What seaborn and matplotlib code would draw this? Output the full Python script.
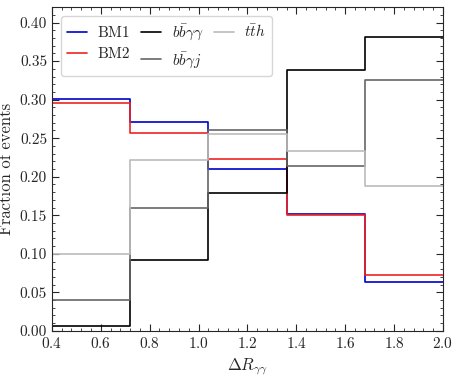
import numpy as np
import pandas as pd
import matplotlib
matplotlib.use("Agg")
import matplotlib.pyplot as plt
from matplotlib.ticker import AutoMinorLocator
import seaborn as sns

# bin edges in Delta R_gamma gamma
edges = [0.4, 0.72, 1.04, 1.36, 1.68, 2.0]

bm1 = [0.301, 0.271, 0.210, 0.151, 0.063]
bm2 = [0.296, 0.257, 0.223, 0.150, 0.073]
bbaa = [0.006, 0.092, 0.179, 0.339, 0.381]
bbaj = [0.040, 0.159, 0.261, 0.214, 0.325]
tth = [0.100, 0.222, 0.256, 0.233, 0.188]

labels = ["BM1", "BM2", r"$b\bar{b}\gamma\gamma$", r"$b\bar{b}\gamma j$", r"$t\bar{t}h$"]
colors = ["#0000cc", "#ee2222", "black", "#666666", "#bbbbbb"]

centers = [(a + b) / 2 for a, b in zip(edges[:-1], edges[1:])]
rows = []
for lab, vals in zip(labels, [bm1, bm2, bbaa, bbaj, tth]):
    for c, v in zip(centers, vals):
        rows.append({"dR": c, "frac": v, "sample": lab})
df = pd.DataFrame(rows)

sns.set_style("ticks")
plt.rcParams["font.family"] = "serif"
plt.rcParams["font.serif"] = ["cmr10", "DejaVu Serif"]
plt.rcParams["mathtext.fontset"] = "cm"
plt.rcParams["axes.formatter.use_mathtext"] = True

fig, ax = plt.subplots(figsize=(4.59, 3.76), dpi=100)
for lab, col in zip(labels, colors):
    sub = df[df["sample"] == lab]
    sns.histplot(data=sub, x="dR", weights="frac", bins=edges, element="step",
                 fill=False, color=col, linewidth=1.2, label=lab, ax=ax)

ax.set_xlim(0.4, 2.0)
ax.set_ylim(0, 0.42)
ax.set_xlabel(r"$\Delta R_{\gamma\gamma}$", fontsize=12)
ax.set_ylabel("Fraction of events", fontsize=12)
ax.xaxis.set_minor_locator(AutoMinorLocator(5))
ax.yaxis.set_minor_locator(AutoMinorLocator(5))
ax.tick_params(which="both", direction="in", top=True, right=True, labelsize=11)
ax.tick_params(which="major", length=5)
ax.tick_params(which="minor", length=2.5)
ax.set_yticks(np.arange(0, 0.41, 0.05))
ax.set_yticklabels([f"{t:.2f}" for t in np.arange(0, 0.41, 0.05)])
ax.legend(ncol=3, loc="upper left", fontsize=11, handlelength=1.3,
          handletextpad=0.7, columnspacing=0.7, labelspacing=0.5,
          borderaxespad=0.6, fancybox=True)

fig.subplots_adjust(left=0.113, right=0.965, top=0.981, bottom=0.12)
fig.savefig("out.png", dpi=100)
